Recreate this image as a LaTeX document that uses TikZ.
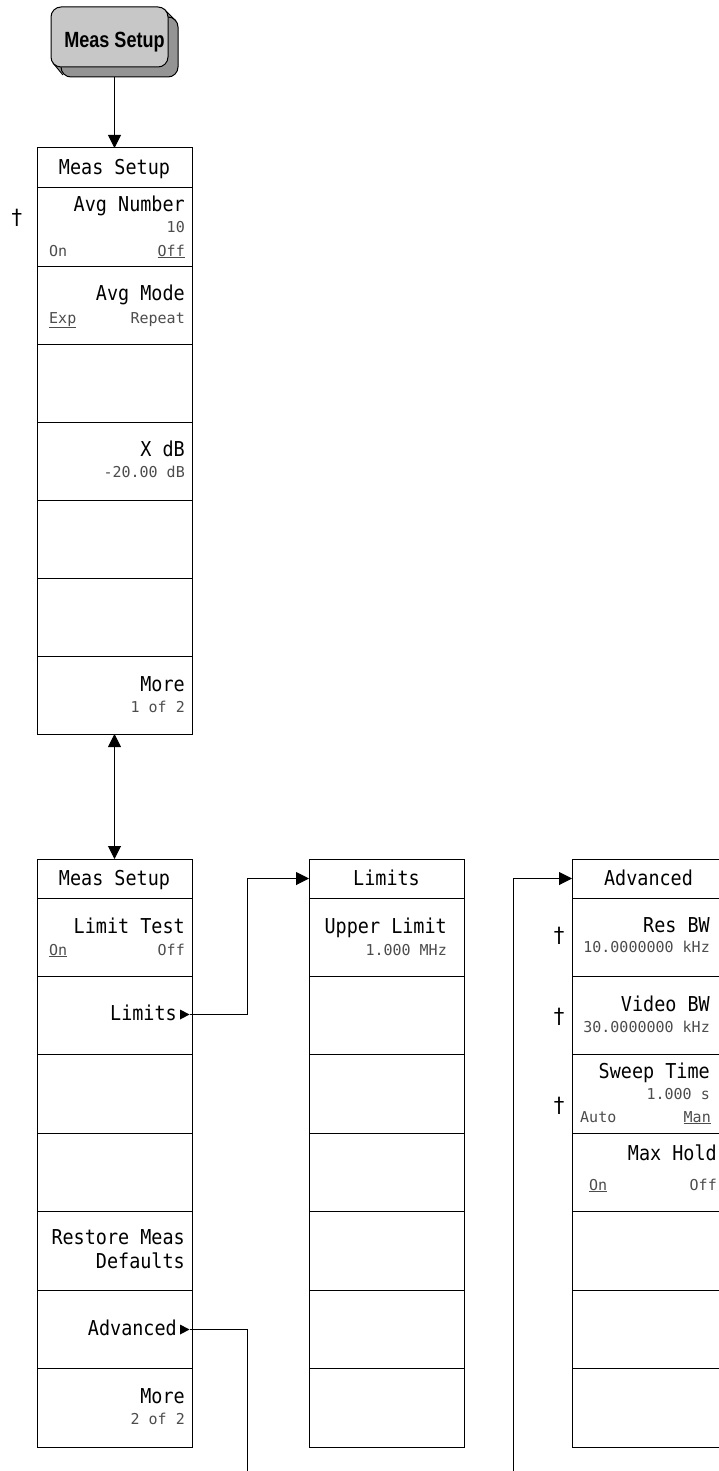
\documentclass[tikz,border=0pt]{standalone}
\usepackage{fontspec}
\usetikzlibrary{arrows.meta}
\newfontfamily\panelfont[FakeStretch=0.9]{DejaVu Sans Mono}
\newfontfamily\valfont{DejaVu Sans Mono}
\newfontfamily\btnfont[FakeStretch=0.82]{Liberation Sans}
\newfontfamily\symfont{DejaVu Sans}
\newcommand\ulx[1]{\underline{#1}}
\begin{document}
\begin{tikzpicture}[x=1pt,y=-1pt,
  panelbox/.style={draw=black, line width=1pt, minimum width=155pt, inner sep=0pt, outer sep=0pt},
  ttlbox/.style={panelbox, minimum height=40pt},
  softkey/.style={panelbox, minimum height=78pt},
  softkeyb/.style={panelbox, minimum height=78.43pt},
  lbl/.style={font=\panelfont\fontsize{20.5}{24}\selectfont, inner sep=0pt, text=black},
  val/.style={font=\valfont\fontsize{15}{17}\selectfont, inner sep=0pt, text=black!70},
  dag/.style={font=\symfont\fontsize{21}{23}\selectfont, inner sep=0pt},
  arr/.style={-{Triangle[width=13pt,length=13pt]}, line width=1pt},
  darr/.style={{Triangle[width=13pt,length=13pt]}-{Triangle[width=13pt,length=13pt]}, line width=1pt},
  conn/.style={line width=1pt}
]
\useasboundingbox (0,0) rectangle (719,1471);
\clip (0,0) rectangle (719,1471);

% ---- hardkey ----
\foreach \d in {0,1,...,10}{
  \fill[black!42, rounded corners=10pt] ({51+\d},{7+\d}) rectangle ({168+\d},{67+\d});
}
\draw[line width=1pt, rounded corners=10pt] (61,17) rectangle (178,77);
\draw[line width=1pt] (164,9) -- (176,21);
\draw[line width=1pt] (53,63) -- (63,75);
\fill[black!22, rounded corners=10pt] (51,7) rectangle (168,67);
\draw[line width=1pt, rounded corners=10pt] (51,7) rectangle (168,67);
\node[font=\btnfont\bfseries\fontsize{22}{24}\selectfont, inner sep=0pt, minimum width=127pt, minimum height=70pt] (key) at (114.5,42) {Meas Setup};

% ---- panel 1 ----
\node[ttlbox] (p1t) at (114.5,168) {};
\foreach \i in {1,...,7}{
  \node[softkey] (p1r\i) at (114.5,{188+39+78*(\i-1)}) {};
}
\node[lbl, anchor=base] (p1title) at (114.5,175) {Meas Setup};
\node[lbl, anchor=base east] (p1a) at (185,212) {Avg Number};
\node[val, anchor=base east] (p1b) at (185,233) {10};
\node[val, anchor=base west] (p1c) at (49,256) {On};
\node[val, anchor=base east] (p1d) at (185,256) {\ulx{Off}};
\node[dag] (dg1) at (17,218) {†};
\node[lbl, anchor=base east] (p1e) at (185,300) {Avg Mode};
\node[val, anchor=base west] (p1f) at (49,323) {\ulx{Exp}};
\node[val, anchor=base east] (p1g) at (185,323) {Repeat};
\node[lbl, anchor=base east] (p1h) at (185,456) {X dB};
\node[val, anchor=base east] (p1i) at (185,477) {-20.00 dB};
\node[lbl, anchor=base east] (p1j) at (185,691) {More};
\node[val, anchor=base east] (p1k) at (185,712) {1 of 2};

% ---- panel 2 ----
\node[panelbox, minimum height=39pt] (p2t) at (114.5,878.5) {};
\foreach \i in {1,...,7}{
  \node[softkeyb] (p2r\i) at (114.5,{898+39.215+78.43*(\i-1)}) {};
}
\node[lbl, anchor=base] (p2title) at (114.5,885) {Meas Setup};
\node[lbl, anchor=base east] (p2a) at (185,933) {Limit Test};
\node[val, anchor=base west] (p2b) at (49,955) {\ulx{On}};
\node[val, anchor=base east] (p2c) at (185,955) {Off};
\node[lbl, anchor=base east] (p2d) at (177,1020) {Limits};
\fill (180,1009.5) -- (189.5,1014.5) -- (180,1019.5) -- cycle;
\coordinate (limtip) at (189.5,1014.5);
\node[lbl, anchor=base east] (p2e) at (185,1244) {Restore Meas};
\node[lbl, anchor=base east] (p2f) at (185,1268) {Defaults};
\node[lbl, anchor=base east] (p2g) at (177,1335) {Advanced};
\fill (180,1324.5) -- (189.5,1329.5) -- (180,1334.5) -- cycle;
\coordinate (advtip) at (189.5,1329.5);
\node[lbl, anchor=base east] (p2h) at (185,1403) {More};
\node[val, anchor=base east] (p2i) at (185,1424) {2 of 2};

% ---- Limits panel ----
\node[panelbox, minimum height=39pt] (lt) at (386.5,878.5) {};
\foreach \i in {1,...,7}{
  \node[softkeyb] (lr\i) at (386.5,{898+39.215+78.43*(\i-1)}) {};
}
\node[lbl, anchor=base] (ltitle) at (386.5,885) {Limits};
\node[lbl, anchor=base east] (la) at (447,933) {Upper Limit};
\node[val, anchor=base east] (lb) at (447,955) {1.000 MHz};

% ---- Advanced panel ----
\node[panelbox, minimum height=39pt] (at) at (649.5,878.5) {};
\foreach \i in {1,...,7}{
  \node[softkeyb] (ar\i) at (649.5,{898+39.215+78.43*(\i-1)}) {};
}
\node[lbl, anchor=base] (atitle) at (648.5,885) {Advanced};
\node[lbl, anchor=base east] (aa) at (710,932) {Res BW};
\node[val, anchor=base east] (ab) at (710,952) {10.0000000 kHz};
\node[dag] (dg2) at (559,936) {†};
\node[lbl, anchor=base east] (ac) at (710,1011) {Video BW};
\node[val, anchor=base east] (ad) at (710,1032) {30.0000000 kHz};
\node[dag] (dg3) at (559,1016.5) {†};
\node[lbl, anchor=base east] (ae) at (710,1078) {Sweep Time};
\node[val, anchor=base east] (af) at (710,1099) {1.000 s};
\node[val, anchor=base west] (ag) at (580,1122) {Auto};
\node[val, anchor=base east] (ah) at (711,1122) {\ulx{Man}};
\node[dag] (dg4) at (559,1105.5) {†};
\node[lbl, anchor=base east] (ai) at (717,1160) {Max Hold};
\node[val, anchor=base west] (aj) at (589,1190) {\ulx{On}};
\node[val, anchor=base east] (ak) at (717,1190) {Off};

% ---- connectors ----
\draw[arr] (key.south) -- (p1t.north);
\draw[darr] (p1r7.south) -- (p2t.north);
\draw[arr] (limtip) -- (247,1014.5) |- (lt.west);
\draw[arr] (advtip) -- (247,1329.5) -- (247,1500) -- (513,1500) |- (at.west);
\end{tikzpicture}
\end{document}
